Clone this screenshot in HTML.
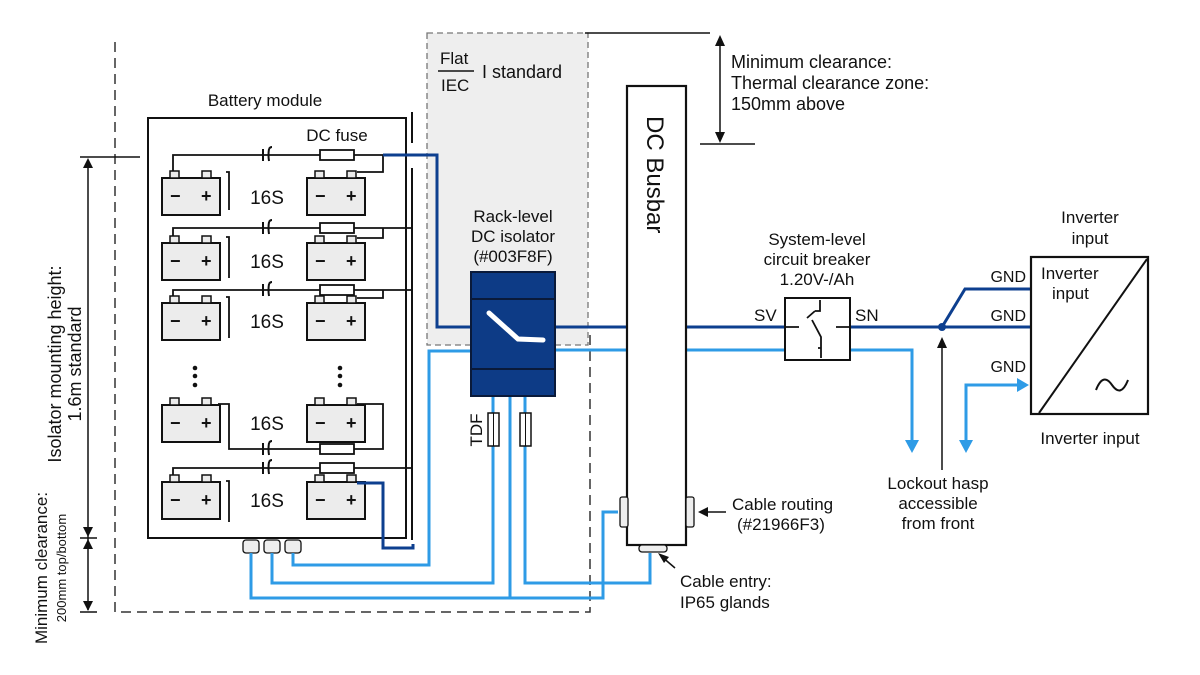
<!DOCTYPE html>
<html><head><meta charset="utf-8"><style>
html,body{margin:0;padding:0;background:#fff}
svg{display:block}
text{font-family:"Liberation Sans",sans-serif;fill:#111}
</style></head><body>
<svg width="1200" height="675" viewBox="0 0 1200 675" xmlns="http://www.w3.org/2000/svg">
<defs>
<g id="bat">
<rect x="0" y="0" width="58" height="37" fill="#ececec" stroke="#111" stroke-width="2"/>
<rect x="8" y="-7" width="9" height="7" fill="#ececec" stroke="#111" stroke-width="1.5"/>
<rect x="40" y="-7" width="9" height="7" fill="#ececec" stroke="#111" stroke-width="1.5"/>
<text x="8" y="24" font-size="18" font-weight="bold">−</text>
<text x="39" y="24" font-size="18" font-weight="bold">+</text>
</g>
<g id="cap"><path d="M-3,-6 L-3,6 M3,-6 Q2,0 3,6 M3,-6 Q4,-8 6,-8" fill="none" stroke="#111" stroke-width="2"/></g>
<g id="fuse"><rect x="0" y="-5" width="34" height="10" fill="#fff" stroke="#111" stroke-width="1.8"/></g>
</defs>

<rect x="427" y="33" width="161" height="312" fill="#eeeeee" stroke="#777" stroke-width="1.3" stroke-dasharray="6,4"/>
<text x="440" y="64" font-size="17">Flat</text>
<line x1="438" y1="71" x2="474" y2="71" stroke="#111" stroke-width="1.5"/>
<text x="441" y="91" font-size="17">IEC</text>
<text x="482" y="78" font-size="18">I standard</text>

<path d="M115,42 L115,612 L590,612 L590,335" fill="none" stroke="#333" stroke-width="1.5" stroke-dasharray="10,6"/>

<line x1="80" y1="157" x2="140" y2="157" stroke="#111" stroke-width="1.5"/>
<line x1="80" y1="538" x2="97" y2="538" stroke="#111" stroke-width="1.5"/>
<line x1="80" y1="612" x2="97" y2="612" stroke="#111" stroke-width="1.5"/>
<line x1="88" y1="160" x2="88" y2="610" stroke="#111" stroke-width="1.5"/>
<path d="M83,168 L88,158 L93,168 z M83,527 L88,537 L93,527 z M83,549 L88,539 L93,549 z M83,601 L88,611 L93,601 z" fill="#111"/>
<text transform="translate(61,364) rotate(-90)" text-anchor="middle" font-size="18">Isolator mounting height:</text>
<text transform="translate(81,364) rotate(-90)" text-anchor="middle" font-size="18">1.6m standard</text>
<text transform="translate(47,568) rotate(-90)" text-anchor="middle" font-size="17">Minimum clearance:</text>
<text transform="translate(66,568) rotate(-90)" text-anchor="middle" font-size="13">200mm top/bottom</text>

<text x="265" y="106" text-anchor="middle" font-size="17">Battery module</text>
<rect x="148" y="118" width="258" height="420" fill="#fff" stroke="#111" stroke-width="2"/>
<line x1="412" y1="112" x2="412" y2="143" stroke="#111" stroke-width="2"/>
<line x1="412" y1="168" x2="412" y2="540" stroke="#111" stroke-width="2"/>
<text x="337" y="141" text-anchor="middle" font-size="17">DC fuse</text>

<g stroke="#111" stroke-width="1.8" fill="none">
<path d="M173,178 L173,155 L383,155 L383,172 L357,172"/>
<path d="M226,172 L229,172 L229,210"/>
<path d="M173,243 L173,228 L412,228"/>
<path d="M383,228 L383,238 L357,238"/>
<path d="M226,237 L229,237 L229,278"/>
<path d="M173,303 L173,290 L412,290"/>
<path d="M383,290 L383,298 L357,298"/>
<path d="M226,297 L229,297 L229,338"/>
<path d="M218,404 L229,404 L229,449 L383,449 L383,404 L357,404"/>
<path d="M173,482 L173,468 L412,468"/>
<path d="M226,481 L229,481 L229,522"/>
</g>
<use href="#bat" x="162" y="178"/><use href="#bat" x="307" y="178"/>
<use href="#bat" x="162" y="243"/><use href="#bat" x="307" y="243"/>
<use href="#bat" x="162" y="303"/><use href="#bat" x="307" y="303"/>
<use href="#bat" x="162" y="405"/><use href="#bat" x="307" y="405"/>
<use href="#bat" x="162" y="482"/><use href="#bat" x="307" y="482"/>
<use href="#cap" x="266" y="155"/><use href="#cap" x="266" y="228"/><use href="#cap" x="266" y="290"/>
<use href="#cap" x="266" y="449"/><use href="#cap" x="266" y="468"/>
<use href="#fuse" x="320" y="155"/><use href="#fuse" x="320" y="228"/><use href="#fuse" x="320" y="290"/>
<use href="#fuse" x="320" y="449"/><use href="#fuse" x="320" y="468"/>
<g font-size="19" text-anchor="middle">
<text x="267" y="204">16S</text><text x="267" y="268">16S</text><text x="267" y="328">16S</text>
<text x="267" y="430">16S</text><text x="267" y="507">16S</text></g>
<g fill="#111"><circle cx="195" cy="368" r="2.3"/><circle cx="195" cy="376" r="2.3"/><circle cx="195" cy="385" r="2.3"/>
<circle cx="340" cy="368" r="2.3"/><circle cx="340" cy="376" r="2.3"/><circle cx="340" cy="385" r="2.3"/></g>
<g fill="#eee" stroke="#111" stroke-width="1.3">
<rect x="243" y="540" width="16" height="13" rx="3"/><rect x="264" y="540" width="16" height="13" rx="3"/><rect x="285" y="540" width="16" height="13" rx="3"/></g>

<g stroke="#0d3f8f" stroke-width="3" fill="none">
<path d="M383,155 L437,155 L437,327 L472,327"/>
<path d="M357,483 L383,483 L383,548 L413,548 L413,544"/>
<path d="M555,327 L627,327 M686,327 L785,327 M850,327 L1030,327"/>
<path d="M942,327 L965,289 L1030,289"/>
</g>
<circle cx="942" cy="327" r="4" fill="#0d3f8f"/>

<g stroke="#2e9be6" stroke-width="3" fill="none">
<path d="M472,351 L429,351 L429,565 L293,565 L293,553"/>
<path d="M493,396 L493,583 L272,583 L272,553"/>
<path d="M510,396 L510,598 L251,598 L251,553"/>
<path d="M510,598 L603,598 L603,512 L618,512"/>
<path d="M525,396 L525,583 L650,583 L650,553"/>
<path d="M555,350 L627,350 M686,350 L785,350 M850,350 L912,350 L912,445"/>
<path d="M966,445 L966,385 L1020,385"/>
</g>
<path d="M905,440 L912,453 L919,440 z M959,440 L966,453 L973,440 z M1017,378 L1029,385 L1017,392 z" fill="#2e9be6"/>

<text x="513" y="222" text-anchor="middle" font-size="17">Rack-level</text>
<text x="513" y="242" text-anchor="middle" font-size="17">DC isolator</text>
<text x="513" y="262" text-anchor="middle" font-size="17">(#003F8F)</text>
<rect x="471" y="272" width="84" height="124" fill="#0d3b86" stroke="#0a1a3a" stroke-width="2"/>
<line x1="471" y1="299" x2="555" y2="299" stroke="#0a1a3a" stroke-width="2"/>
<line x1="471" y1="369" x2="555" y2="369" stroke="#0a1a3a" stroke-width="2"/>
<path d="M489,313 L518,339 L543,340" fill="none" stroke="#fff" stroke-width="5" stroke-linecap="round"/>
<rect x="488" y="413" width="11" height="33" fill="#fff" stroke="#111" stroke-width="1.5"/>
<line x1="493.5" y1="413" x2="493.5" y2="446" stroke="#111" stroke-width="1"/>
<rect x="520" y="413" width="11" height="33" fill="#fff" stroke="#111" stroke-width="1.5"/>
<line x1="525.5" y1="413" x2="525.5" y2="446" stroke="#111" stroke-width="1"/>
<text transform="translate(482,430) rotate(-90)" text-anchor="middle" font-size="17">TDF</text>

<rect x="627" y="86" width="59" height="459" fill="#fff" stroke="#111" stroke-width="2.2"/>
<text transform="translate(647,116) rotate(90)" font-size="24">DC Busbar</text>
<rect x="620" y="497" width="8" height="30" rx="2" fill="#eee" stroke="#111" stroke-width="1.3"/>
<rect x="686" y="497" width="8" height="30" rx="2" fill="#eee" stroke="#111" stroke-width="1.3"/>
<rect x="639" y="545" width="28" height="7" rx="3" fill="#eee" stroke="#111" stroke-width="1.3"/>
<line x1="726" y1="512" x2="700" y2="512" stroke="#111" stroke-width="1.5"/>
<path d="M708,507 L698,512 L708,517 z" fill="#111"/>
<text x="732" y="510" font-size="17">Cable routing</text>
<text x="737" y="530" font-size="17">(#21966F3)</text>
<line x1="675" y1="568" x2="661" y2="556" stroke="#111" stroke-width="1.5"/>
<path d="M658,553 L669,557 L664,563 z" fill="#111"/>
<text x="680" y="587" font-size="17">Cable entry:</text>
<text x="680" y="608" font-size="17">IP65 glands</text>

<line x1="585" y1="33" x2="710" y2="33" stroke="#111" stroke-width="1.5"/>
<line x1="700" y1="144" x2="755" y2="144" stroke="#111" stroke-width="1.5"/>
<line x1="720" y1="40" x2="720" y2="137" stroke="#111" stroke-width="1.5"/>
<path d="M715,46 L720,35 L725,46 z M715,132 L720,143 L725,132 z" fill="#111"/>
<text x="731" y="68" font-size="18">Minimum clearance:</text>
<text x="731" y="89" font-size="18">Thermal clearance zone:</text>
<text x="731" y="110" font-size="18">150mm above</text>

<text x="817" y="245" text-anchor="middle" font-size="17">System-level</text>
<text x="817" y="265" text-anchor="middle" font-size="17">circuit breaker</text>
<text x="817" y="285" text-anchor="middle" font-size="17">1.20V-/Ah</text>
<rect x="785" y="298" width="65" height="62" fill="#fff" stroke="#111" stroke-width="2"/>
<path d="M785,327 L799,327 M836,327 L850,327 M820,300 L820,311 L815,311 M812,320 L821,337 L821,348 L818,348 M821,348 L821,358 M807,318 L815,311" fill="none" stroke="#111" stroke-width="1.8"/>
<text x="754" y="321" font-size="17">SV</text>
<text x="855" y="321" font-size="17">SN</text>

<line x1="942" y1="470" x2="942" y2="340" stroke="#111" stroke-width="1.5"/>
<path d="M937,348 L942,337 L947,348 z" fill="#111"/>
<text x="938" y="489" text-anchor="middle" font-size="17">Lockout hasp</text>
<text x="938" y="509" text-anchor="middle" font-size="17">accessible</text>
<text x="938" y="529" text-anchor="middle" font-size="17">from front</text>

<text x="1090" y="223" text-anchor="middle" font-size="17">Inverter</text>
<text x="1090" y="244" text-anchor="middle" font-size="17">input</text>
<rect x="1031" y="257" width="117" height="157" fill="#fff" stroke="#111" stroke-width="2.2"/>
<line x1="1039" y1="413" x2="1147" y2="259" stroke="#111" stroke-width="2"/>
<text x="1041" y="279" font-size="17">Inverter</text>
<text x="1052" y="299" font-size="17">input</text>
<path d="M1096,390 Q1103,372 1112,385 Q1121,398 1128,380" fill="none" stroke="#111" stroke-width="2"/>
<text x="1026" y="282" text-anchor="end" font-size="16">GND</text>
<text x="1026" y="321" text-anchor="end" font-size="16">GND</text>
<text x="1026" y="372" text-anchor="end" font-size="16">GND</text>
<text x="1090" y="444" text-anchor="middle" font-size="17">Inverter input</text>
</svg>
</body></html>
